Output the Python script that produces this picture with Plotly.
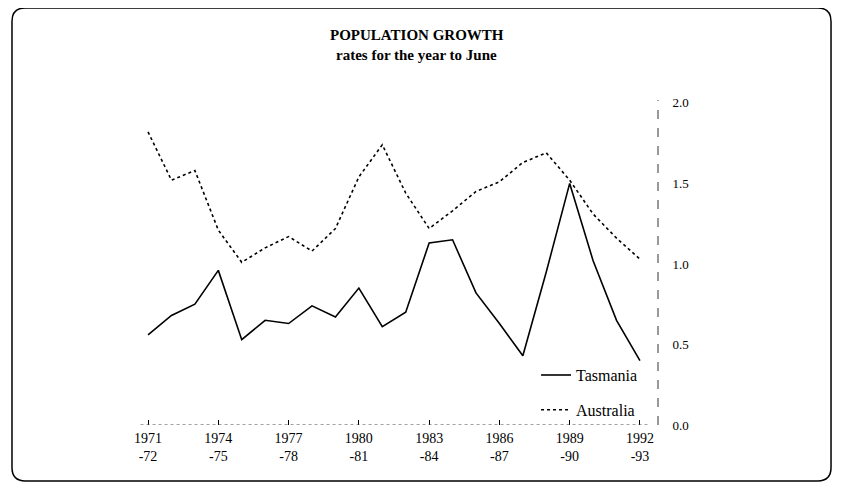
import plotly.graph_objects as go

years = ["1971<br>-72", "1972<br>-73", "1973<br>-74", "1974<br>-75", "1975<br>-76", "1976<br>-77",
         "1977<br>-78", "1978<br>-79", "1979<br>-80", "1980<br>-81", "1981<br>-82", "1982<br>-83",
         "1983<br>-84", "1984<br>-85", "1985<br>-86", "1986<br>-87", "1987<br>-88", "1988<br>-89",
         "1989<br>-90", "1990<br>-91", "1991<br>-92", "1992<br>-93"]
x_idx = list(range(len(years)))

tasmania = [0.56, 0.68, 0.75, 0.96, 0.53, 0.65, 0.63, 0.74, 0.67, 0.85, 0.61,
            0.70, 1.13, 1.15, 0.82, 0.63, 0.43, 0.95, 1.50, 1.02, 0.65, 0.40]
australia = [1.82, 1.52, 1.58, 1.21, 1.01, 1.10, 1.17, 1.08, 1.22, 1.54, 1.74,
             1.44, 1.22, 1.33, 1.45, 1.51, 1.63, 1.69, 1.52, 1.31, 1.16, 1.03]

tick_pos = [0, 3, 6, 9, 12, 15, 18, 21]
tick_text = [years[i] for i in tick_pos]
y_ticks = [0.0, 0.5, 1.0, 1.5, 2.0]
y_text = ["0.0", "0.5", "1.0", "1.5", "2.0"]

FONT = "Liberation Serif, Times New Roman, serif"

fig = go.Figure()
fig.add_trace(go.Scatter(x=x_idx, y=tasmania, mode="lines", name="Tasmania",
                         line=dict(color="black", width=1.6), legend="legend", showlegend=True))
fig.add_trace(go.Scatter(x=x_idx, y=australia, mode="lines", name="Australia",
                         line=dict(color="black", width=1.6, dash="dot"), legend="legend2",
                         showlegend=True))

# rounded outer frame
x0, x1, y0, y1 = -0.2235, 1.3277, -0.1672, 1.2448
rx, ry = 0.025, 0.04
path = (f"M{x0+rx},{y1} L{x1-rx},{y1} Q{x1},{y1} {x1},{y1-ry} L{x1},{y0+ry} "
        f"Q{x1},{y0} {x1-rx},{y0} L{x0+rx},{y0} Q{x0},{y0} {x0},{y0+ry} "
        f"L{x0},{y1-ry} Q{x0},{y1} {x0+rx},{y1} Z")
fig.add_shape(type="path", path=path, xref="paper", yref="paper",
              line=dict(color="black", width=1.5), layer="below")
# dotted baseline and dashed right axis line
fig.add_shape(type="line", xref="paper", yref="y", x0=0.02, x1=0.98, y0=0, y1=0,
              line=dict(color="#444", width=1, dash="dot"))
fig.add_shape(type="line", xref="paper", yref="paper", x0=1, x1=1, y0=0, y1=0.97,
              line=dict(color="#333", width=1, dash="dash"))

fig.add_annotation(text="<b>POPULATION GROWTH</b>",
                   xref="paper", yref="paper", x=0.543, y=1.163, xanchor="center", yanchor="middle",
                   showarrow=False, font=dict(family=FONT, size=15, color="black"))
fig.add_annotation(text="<b>rates for the year to June</b>",
                   xref="paper", yref="paper", x=0.543, y=1.104, xanchor="center", yanchor="middle",
                   showarrow=False, font=dict(family=FONT, size=15, color="black"))

fig.update_layout(
    width=844, height=488,
    margin=dict(l=122, r=194, t=82, b=71),
    paper_bgcolor="white", plot_bgcolor="white",
    showlegend=True,
    font=dict(family=FONT, size=12, color="black"),
    xaxis=dict(range=[-0.77, 21.77], tickvals=tick_pos, ticktext=tick_text,
               showgrid=False, zeroline=False, showline=False,
               ticks="inside", ticklen=5, tickcolor="black", tickwidth=1,
               ticklabelstandoff=3,
               tickfont=dict(family=FONT, size=14, color="black")),
    yaxis=dict(range=[0, 2.08], side="right", tickvals=y_ticks, ticktext=y_text,
               showgrid=False, zeroline=False, showline=False,
               ticks="outside", ticklen=11, tickcolor="white",
               tickfont=dict(family=FONT, size=13, color="black")),
    legend=dict(x=0.769, y=0.149, xanchor="left", yanchor="middle",
                bgcolor="rgba(0,0,0,0)", font=dict(family=FONT, size=16)),
    legend2=dict(x=0.769, y=0.045, xanchor="left", yanchor="middle",
                 bgcolor="rgba(0,0,0,0)", font=dict(family=FONT, size=16)),
)

fig.write_html("out.html")
